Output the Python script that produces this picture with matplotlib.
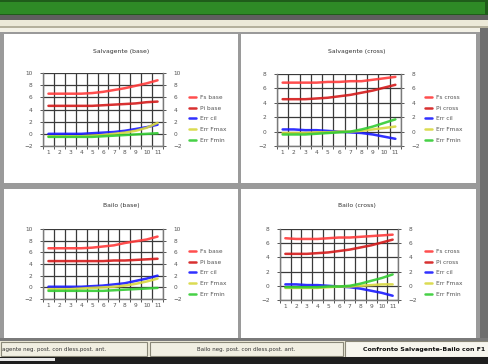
import matplotlib
matplotlib.use('Agg')
import matplotlib.pyplot as plt
from matplotlib.patches import Rectangle
import numpy as np

W, H = 488, 364

# data
steps = list(range(1, 12))
series_colors = ['#ff3b3b', '#d41a1a', '#1a1aff', '#d8d840', '#33cc33']

salv_base_title = 'Salvagente (base)'
salv_base_labels = ['Fs base', 'Pi base', 'Err cil', 'Err Fmax', 'Err Fmin']
salv_base_fs = [6.6, 6.6, 6.6, 6.6, 6.7, 6.9, 7.2, 7.5, 7.9, 8.3, 8.8]
salv_base_pi = [4.6, 4.6, 4.6, 4.6, 4.6, 4.7, 4.8, 4.9, 5.0, 5.2, 5.3]
salv_base_cil = [0.0, 0.0, 0.0, 0.0, 0.1, 0.2, 0.3, 0.5, 0.8, 1.1, 1.5]
salv_base_fmax = [-0.4, -0.4, -0.4, -0.4, -0.3, -0.2, 0.0, 0.2, 0.5, 1.0, 1.8]
salv_base_fmin = [-0.5, -0.5, -0.5, -0.5, -0.5, -0.4, -0.3, -0.2, -0.1, 0.0, 0.1]

salv_cross_title = 'Salvagente (cross)'
salv_cross_labels = ['Fs cross', 'Pi cross', 'Err cil', 'Err Fmax', 'Err Fmin']
salv_cross_fs = [6.8, 6.8, 6.8, 6.8, 6.9, 6.9, 7.0, 7.0, 7.2, 7.4, 7.6]
salv_cross_pi = [4.5, 4.5, 4.5, 4.6, 4.7, 4.9, 5.1, 5.4, 5.7, 6.1, 6.5]
salv_cross_cil = [0.3, 0.3, 0.2, 0.2, 0.1, 0.0, -0.1, -0.2, -0.4, -0.7, -1.0]
salv_cross_fmax = [-0.2, -0.2, -0.2, -0.1, -0.1, 0.0, 0.0, 0.1, 0.3, 0.5, 0.7]
salv_cross_fmin = [-0.4, -0.4, -0.4, -0.3, -0.2, -0.1, 0.0, 0.3, 0.7, 1.2, 1.7]

bailo_base_title = 'Bailo (base)'
bailo_base_labels = ['Fs base', 'Pi base', 'Err cil', 'Err Fmax', 'Err Fmin']
bailo_base_fs = [6.7, 6.7, 6.7, 6.7, 6.8, 7.0, 7.2, 7.6, 7.9, 8.2, 8.7]
bailo_base_pi = [4.5, 4.5, 4.5, 4.5, 4.5, 4.5, 4.6, 4.6, 4.7, 4.8, 4.9]
bailo_base_cil = [0.1, 0.1, 0.1, 0.1, 0.2, 0.3, 0.5, 0.7, 1.1, 1.5, 2.0]
bailo_base_fmax = [-0.3, -0.3, -0.3, -0.2, -0.1, 0.0, 0.1, 0.3, 0.6, 1.0, 1.5]
bailo_base_fmin = [-0.6, -0.6, -0.6, -0.6, -0.6, -0.6, -0.5, -0.4, -0.3, -0.2, -0.1]

bailo_cross_title = 'Bailo (cross)'
bailo_cross_labels = ['Fs cross', 'Pi cross', 'Err cil', 'Err Fmax', 'Err Fmin']
bailo_cross_fs = [6.7, 6.6, 6.6, 6.6, 6.7, 6.8, 6.8, 6.9, 7.0, 7.1, 7.2]
bailo_cross_pi = [4.5, 4.5, 4.5, 4.6, 4.7, 4.9, 5.1, 5.4, 5.7, 6.1, 6.5]
bailo_cross_cil = [0.2, 0.2, 0.1, 0.1, 0.0, -0.1, -0.2, -0.4, -0.7, -1.0, -1.4]
bailo_cross_fmax = [-0.3, -0.3, -0.3, -0.3, -0.2, -0.1, -0.1, 0.0, 0.1, 0.2, 0.2]
bailo_cross_fmin = [-0.2, -0.2, -0.2, -0.2, -0.1, -0.1, 0.0, 0.3, 0.7, 1.1, 1.6]

# sheet tabs as far as they are visible in the window
sheet_tabs = ['agente neg. post. con dless.post. ant.',
              'Bailo neg. post. con dless.post. ant.',
              'Confronto Salvagente-Bailo con F1']

fig = plt.figure(figsize=(W / 100, H / 100), dpi=100)

# window chrome drawn in pixel coordinates
bg = fig.add_axes([0, 0, 1, 1])
bg.set_xlim(0, W)
bg.set_ylim(H, 0)
bg.axis('off')


def box(x, y, w, h, fc, ec='none', lw=0):
    bg.add_patch(Rectangle((x, y), w, h, facecolor=fc, edgecolor=ec, lw=lw))


box(0, 0, W, H, '#8c8c8c')
box(0, 0, W, 15, '#1f5c1a')
box(0, 2, W - 3, 12, '#2e8a26')
box(0, 15, W, 5, '#5f5f5f')
box(0, 20, W, 6, '#ece9d8')
box(0, 26, W, 2, '#b4b09c')
box(0, 28, W, 4, '#f3f1e6')
box(0, 32, W, 306, '#9a9a9a')
box(480, 28, 8, 312, '#6e6e6e')
box(4, 34, 234, 149, 'white')
box(241, 34, 235, 149, 'white')
box(4, 189, 234, 149, 'white')
box(241, 189, 235, 149, 'white')
box(0, 338, W, 4, '#7a7a7a')
box(0, 341, W, 17, '#ece9d8')
box(1, 342, 146, 14, '#f1efe2', '#8a8878', 0.8)
box(150, 342, 193, 14, '#f1efe2', '#8a8878', 0.8)
box(345, 341, 150, 16, '#f7f6ee', '#8a8878', 0.8)
box(0, 357, W, 7, '#1e1e1e')
box(0, 358, 55, 3, '#e8e8e8')
bg.text(2, 349.5, sheet_tabs[0], fontsize=4, va='center', ha='left', color='#333333')
bg.text(246, 349.5, sheet_tabs[1], fontsize=4, va='center', ha='center', color='#333333')
bg.text(363, 349.5, sheet_tabs[2], fontsize=4.5, va='center', ha='left',
        color='#111111', fontweight='bold')


def chart(box_px, title, title_xy, labels, series, ymax, legend_xy):
    x0, y0, x1, y1 = box_px
    ax = fig.add_axes([x0 / W, 1 - y1 / H, (x1 - x0) / W, (y1 - y0) / H])
    ax.set_facecolor('white')
    for vals, lab, col in zip(series, labels, series_colors):
        ax.plot(steps, vals, color=col, lw=1.8, label=lab, alpha=0.9,
                solid_capstyle='round')
    ax.set_xlim(0.5, 11.5)
    ax.set_ylim(-2, ymax)
    yt = np.arange(-2, ymax + 1, 2)
    ax.set_yticks(yt)
    ax.set_xticks(steps)
    ax.set_xticks(np.arange(0.5, 12, 1), minor=True)
    ax.grid(True, which='minor', axis='x', color='#3a3a3a', lw=0.9)
    ax.grid(True, which='major', axis='y', color='#3a3a3a', lw=0.9)
    ax.set_axisbelow(True)
    ax.tick_params(axis='x', which='major', length=0, labelsize=4.2,
                   pad=3, colors='#555555')
    ax.tick_params(axis='x', which='minor', length=2.5, color='#555555', width=0.7)
    ax.tick_params(axis='y', length=2.5, labelsize=4.2, pad=5,
                   colors='#555555', right=True, labelright=True, width=0.7)
    ax.spines['top'].set_visible(False)
    for s in ('left', 'right', 'bottom'):
        ax.spines[s].set_color('#7a7a7a')
        ax.spines[s].set_linewidth(1.0)
    fig.text(title_xy[0] / W, 1 - title_xy[1] / H, title, fontsize=4.4,
             ha='center', va='center', color='#333333')
    ax.legend(loc='upper left', bbox_to_anchor=(legend_xy[0] / W, 1 - legend_xy[1] / H),
              bbox_transform=fig.transFigure, frameon=False, fontsize=4.2,
              handlelength=1.2, handletextpad=0.6, labelspacing=0.95,
              borderpad=0, borderaxespad=0, labelcolor='#555555')
    return ax


chart((43, 73, 163, 146), salv_base_title, (121, 52), salv_base_labels,
      [salv_base_fs, salv_base_pi, salv_base_cil, salv_base_fmax, salv_base_fmin],
      10, (189, 95))
chart((277, 74, 401, 146), salv_cross_title, (357, 52), salv_cross_labels,
      [salv_cross_fs, salv_cross_pi, salv_cross_cil, salv_cross_fmax, salv_cross_fmin],
      8, (425, 95))
chart((43, 229, 163, 299), bailo_base_title, (121, 206), bailo_base_labels,
      [bailo_base_fs, bailo_base_pi, bailo_base_cil, bailo_base_fmax, bailo_base_fmin],
      10, (189, 249))
chart((280, 229, 398, 300), bailo_cross_title, (357, 206), bailo_cross_labels,
      [bailo_cross_fs, bailo_cross_pi, bailo_cross_cil, bailo_cross_fmax, bailo_cross_fmin],
      8, (425, 249))

fig.savefig('out.png', dpi=100)
